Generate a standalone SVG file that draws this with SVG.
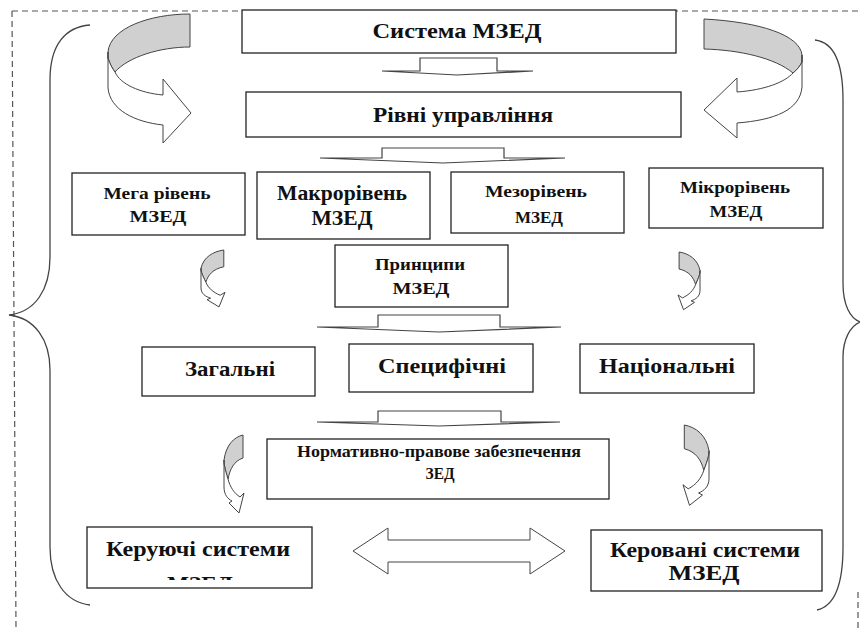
<svg xmlns="http://www.w3.org/2000/svg" xmlns:xlink="http://www.w3.org/1999/xlink" width="860" height="628" viewBox="0 0 860 628">
<style>
.box{fill:#fff;stroke:#222;stroke-width:1.3}
.t{font-family:'Liberation Serif','DejaVu Serif',serif;font-weight:bold;fill:#111;text-anchor:middle}
.flat{fill:#fff;stroke:#444;stroke-width:1.2}
.band{fill:#d0d0d0;stroke:#444;stroke-width:1}
.rib{fill:#fff;stroke:#444;stroke-width:1}
.brace{fill:none;stroke:#444;stroke-width:1.3}
.dash{fill:none;stroke:#555;stroke-width:1.2;stroke-dasharray:6 4}
</style>
<defs>
<g id="curly">
<path class="band" vector-effect="non-scaling-stroke" d="M19,0 C10,2 2,10 0,25 C0,30 1,34 4,44 C6,34 10,26 19,23 Z"/>
<path class="rib" vector-effect="non-scaling-stroke" d="M0,25 L0,52 C0,60 4,64 8,66 L5,68 L15,78 L20,58 L16,62 C10,58 6,52 4,44 C1,34 0,30 0,25 Z"/>
</g>
<clipPath id="clipK"><rect x="87" y="527" width="225" height="53"/></clipPath>
</defs>
<rect width="860" height="628" fill="#fff"/>
<path class="dash" d="M12,11 H860 M12,11 L16,628 M858,592 V628"/>

<g id="connectors">
<path class="flat" d="M420,58 H497 V71 H533 L457,75 L382,71 H420 Z"/>
<path class="flat" d="M382,148 H504 V158 H565 L443,163 L320,158 H382 Z"/>
<path class="flat" d="M378,315 H500 V327 H561 L439,332 L317,327 H378 Z"/>
<path class="flat" d="M378,411 H501 V422 H560 L439,426 L317,422 H378 Z"/>
<path class="band" d="M190,14 C150,14 110,28 108,52 L108,58 C110,64 112,68 115,72 C128,57 160,47 190,47 Z"/>
<path class="rib" d="M108,52 L108,88 C110,110 135,122 163,125 L163,143 L191,113 L163,79 L163,95 C140,93 120,84 115,72 C112,68 110,64 108,58 Z"/>
<path class="band" d="M704,19 C760,22 800,35 802,55 L802,62 C800,66 797,70 793,73 C775,58 740,50 704,49 Z"/>
<path class="rib" d="M802,55 L802,87 C800,110 775,120 737,123 L737,138 L704,110 L737,78 L737,92 C765,90 785,82 793,73 C797,70 800,66 802,62 Z"/>
<use xlink:href="#curly" transform="translate(201,250) scale(1.2,0.73)"/>
<use xlink:href="#curly" transform="translate(224,435)"/>
<use xlink:href="#curly" transform="translate(700,252) scale(-1.1,0.74)"/>
<use xlink:href="#curly" transform="translate(709,425) scale(-1.3,1.03)"/>
<path class="rib" d="M353,551 L388,528 V540 H530 V528 L565,551 L530,574 V562 H388 V574 Z"/>
<path class="brace" d="M90,25 C65,27 50,45 50,80 L50,257 C50,290 35,312 9,315 C35,318 50,340 50,370 L50,547 C50,580 65,602 90,605"/>
<path class="brace" d="M815,40 C832,42 843,60 843,100 L843,283 C843,305 850,318 860,322 C850,326 843,340 843,357 L843,547 C843,585 835,606 817,610"/>
</g>

<g font-family="Liberation Serif, DejaVu Serif, serif">
<g id="sistema">
<rect class="box" x="242" y="10" width="434" height="43"/>
<text class="t" x="457" y="38" font-size="22" textLength="169" lengthAdjust="spacingAndGlyphs">Система МЗЕД</text>
</g>
<g id="rivni">
<rect class="box" x="246" y="92" width="435" height="45"/>
<text class="t" x="463" y="122" font-size="22" textLength="180" lengthAdjust="spacingAndGlyphs">Рівні управління</text>
</g>
<g id="mega">
<rect class="box" x="72" y="173" width="173" height="62"/>
<text class="t" x="157" y="199" font-size="17" textLength="107" lengthAdjust="spacingAndGlyphs">Мега рівень</text>
<text class="t" x="158" y="222" font-size="17" textLength="57" lengthAdjust="spacingAndGlyphs">МЗЕД</text>
</g>
<g id="makro">
<rect class="box" x="257" y="172" width="173" height="67"/>
<text class="t" x="342" y="200" font-size="20" textLength="130" lengthAdjust="spacingAndGlyphs">Макрорівень</text>
<text class="t" x="342" y="225" font-size="20" textLength="61" lengthAdjust="spacingAndGlyphs">МЗЕД</text>
</g>
<g id="mezo">
<rect class="box" x="451" y="172" width="173" height="61"/>
<text class="t" x="536" y="197" font-size="17" textLength="102" lengthAdjust="spacingAndGlyphs">Мезорівень</text>
<text class="t" x="539" y="223" font-size="17" textLength="48" lengthAdjust="spacingAndGlyphs">МЗЕД</text>
</g>
<g id="mikro">
<rect class="box" x="649" y="168" width="174" height="60"/>
<text class="t" x="735" y="193" font-size="17" textLength="110" lengthAdjust="spacingAndGlyphs">Мікрорівень</text>
<text class="t" x="736" y="217" font-size="17" textLength="53" lengthAdjust="spacingAndGlyphs">МЗЕД</text>
</g>
<g id="pryntsypy">
<rect class="box" x="335" y="245" width="173" height="62"/>
<text class="t" x="420" y="270" font-size="17" textLength="90" lengthAdjust="spacingAndGlyphs">Принципи</text>
<text class="t" x="421" y="294" font-size="17" textLength="57" lengthAdjust="spacingAndGlyphs">МЗЕД</text>
</g>
<g id="zahalni">
<rect class="box" x="142" y="347" width="173" height="49"/>
<text class="t" x="230" y="376" font-size="20" textLength="90" lengthAdjust="spacingAndGlyphs">Загальні</text>
</g>
<g id="spetsyfichni">
<rect class="box" x="349" y="344" width="184" height="48"/>
<text class="t" x="442" y="373" font-size="20" textLength="128" lengthAdjust="spacingAndGlyphs">Специфічні</text>
</g>
<g id="natsionalni">
<rect class="box" x="580" y="344" width="174" height="49"/>
<text class="t" x="667" y="373" font-size="20" textLength="136" lengthAdjust="spacingAndGlyphs">Національні</text>
</g>
<g id="normatyvno">
<rect class="box" x="267" y="439" width="342" height="60"/>
<text class="t" x="439" y="457" font-size="17" textLength="284" lengthAdjust="spacingAndGlyphs">Нормативно-правове забезпечення</text>
<text class="t" x="440" y="479" font-size="17" textLength="29" lengthAdjust="spacingAndGlyphs">ЗЕД</text>
</g>
<g id="keruiuchi">
<rect class="box" x="87" y="527" width="225" height="61"/>
<text class="t" x="198" y="556" font-size="21" textLength="184" lengthAdjust="spacingAndGlyphs">Керуючі системи</text>
<text class="t" x="200" y="591" font-size="21" textLength="66" lengthAdjust="spacingAndGlyphs" clip-path="url(#clipK)">МЗЕД</text>
</g>
<g id="kerovani">
<rect class="box" x="591" y="530" width="231" height="61"/>
<text class="t" x="705" y="557" font-size="21" textLength="190" lengthAdjust="spacingAndGlyphs">Керовані системи</text>
<text class="t" x="704" y="580" font-size="21" textLength="71" lengthAdjust="spacingAndGlyphs">МЗЕД</text>
</g>
</g>
</svg>
